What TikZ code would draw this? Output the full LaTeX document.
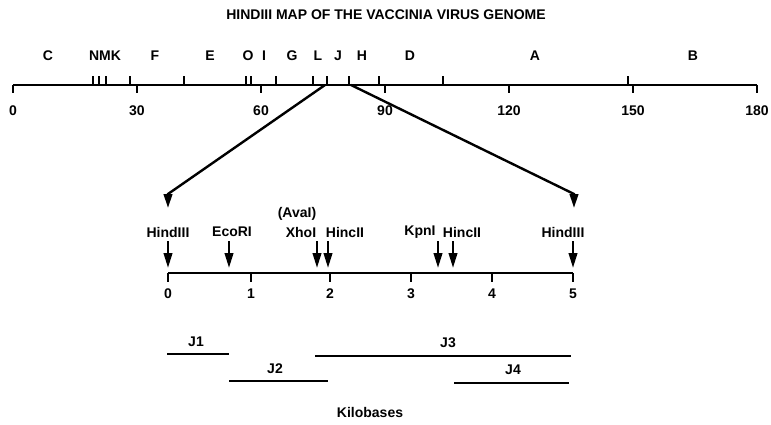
\documentclass[tikz,border=0pt]{standalone}
\usepackage{fontspec}
\setmainfont{Liberation Sans}
\usetikzlibrary{arrows.meta}
\begin{document}
\begin{tikzpicture}[x=1pt,y=-1pt,
  lbl/.style={font=\fontsize{14}{16}\selectfont\bfseries, inner sep=0pt, anchor=center},
  axis/.style={line width=2.1pt},
  tick/.style={line width=2pt},
  conn/.style={line width=2.4pt},
  seg/.style={line width=2pt},
  dn/.style={line width=2.4pt,-{Triangle[length=15pt,width=8.5pt]}},
]
\useasboundingbox (0,0) rectangle (771,425);
% title
\node[lbl] (title) at (386,15) {HINDIII MAP OF THE VACCINIA VIRUS GENOME};
% top axis
\coordinate (a0) at (13,85);
\coordinate (a180) at (757,85);
\draw[axis] (a0) -- (a180);
\foreach \v/\x in {0/13,30/137,60/261,90/385,120/509,150/633,180/757}{
  \draw[tick] (\x,85) -- (\x,93);
  \node[lbl] (n\v) at (\x,111) {\v};
}
\foreach \x in {93,99,106,130,184,246,251,276,313,327,349,379,443,628}{
  \draw[tick] (\x,85) -- (\x,76);
}
% fragment letters
\foreach \l/\x in {C/48,F/155,E/210,O/248,I/264,G/292,L/318,J/338,H/362,D/410,A/535,B/693}{
  \node[lbl] (f\l) at (\x,56) {\l};
}
\node[lbl] (fNMK) at (105,56) {NMK};
% expansion lines
\coordinate (jl) at (325,85);
\coordinate (jr) at (351,85);
\coordinate (bl) at (168,194);
\coordinate (br) at (574,194);
\coordinate (tl) at (168,208);
\coordinate (tr) at (574,208);
\draw[conn,-{Triangle[length=14pt,width=8.5pt]}] (jl) -- (bl) -- (tl);
\draw[conn,-{Triangle[length=14pt,width=8.5pt]}] (jr) -- (br) -- (tr);
% enzyme labels
\node[lbl] (aval) at (297,214) {(AvaI)};
\foreach \n/\t/\x/\ax in {h1/HindIII/168/168, eco/EcoRI/232/229, xho/XhoI/301/317, hc1/HincII/345/328, kpn/KpnI/420/438, hc2/HincII/462/453, h2/HindIII/563/573}{
  \node[lbl] (\n) at (\x,232) {\t};
  \coordinate (\n s) at (\ax,241);
  \coordinate (\n e) at (\ax,268);
  \draw[dn] (\n s) -- (\n e);
}
% lower axis
\coordinate (k0) at (168,273);
\coordinate (k5) at (573,273);
\draw[axis] (k0) -- (k5);
\foreach \v/\x in {0/168,1/251,2/330,3/411,4/492,5/573}{
  \draw[tick] (\x,273) -- (\x,282);
  \node[lbl] (k\v n) at (\x,294) {\v};
}
% sub fragments
\coordinate (j1a) at (167,354); \coordinate (j1b) at (229,354);
\coordinate (j2a) at (229,381); \coordinate (j2b) at (328,381);
\coordinate (j3a) at (315,356); \coordinate (j3b) at (571,356);
\coordinate (j4a) at (454,383); \coordinate (j4b) at (569,383);
\draw[seg] (j1a) -- (j1b);
\draw[seg] (j2a) -- (j2b);
\draw[seg] (j3a) -- (j3b);
\draw[seg] (j4a) -- (j4b);
\node[lbl] (J1) at (196,342) {J1};
\node[lbl] (J2) at (275,369) {J2};
\node[lbl] (J3) at (448,343) {J3};
\node[lbl] (J4) at (513,370) {J4};
\node[lbl] (kb) at (370,412) {Kilobases};
\end{tikzpicture}
\end{document}
